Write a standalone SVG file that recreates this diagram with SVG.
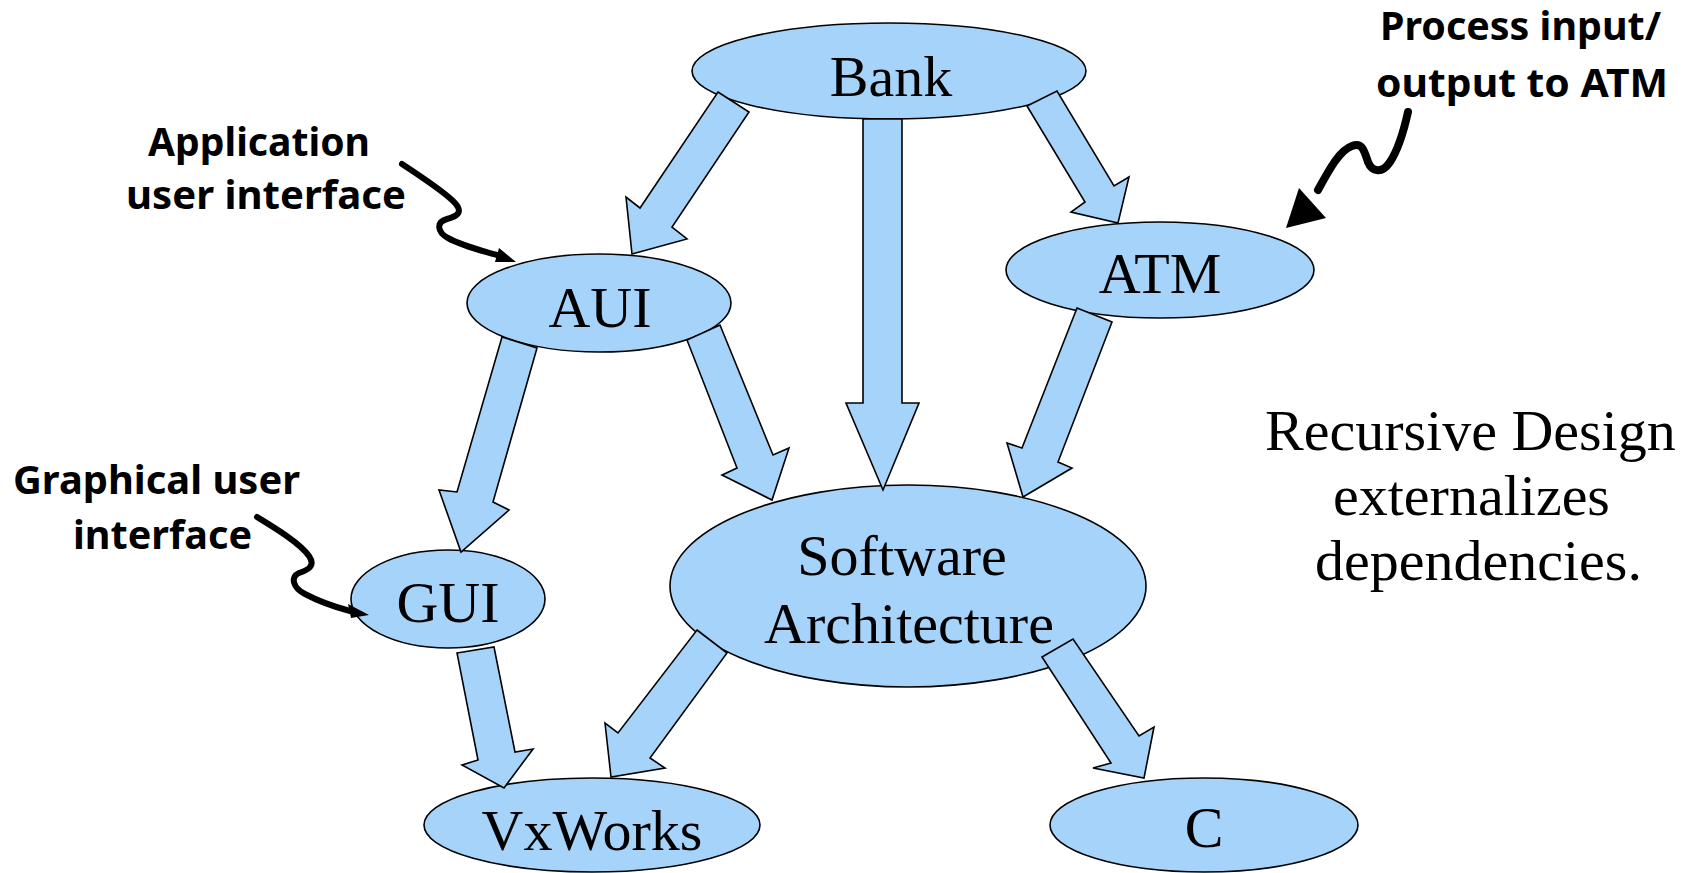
<svg xmlns="http://www.w3.org/2000/svg" width="1690" height="873" viewBox="0 0 1690 873">
  <style>
    .node ellipse { fill: #A6D3FA; stroke: #000; stroke-width: 1.6; }
    .lbl { font-family: "Liberation Serif", "Times New Roman", serif; font-size: 58px; text-anchor: middle; fill: #000; }
    .arrow { fill: #A6D3FA; stroke: #000; stroke-width: 1.6; stroke-linejoin: miter; }
    .note { font-family: "Noto Sans", "DejaVu Sans", sans-serif; font-weight: bold; font-size: 40px; fill: #000; }
    .squiggle { fill: none; stroke: #000; stroke-linecap: round; stroke-linejoin: round; }
    .caption { font-family: "Liberation Serif", "Times New Roman", serif; font-size: 58px; fill: #000; }
  </style>
  <rect width="1690" height="873" fill="#fff"/>

  <!-- nodes -->
  <g id="bank" class="node">
    <ellipse cx="889" cy="71" rx="197" ry="48"/>
    <text class="lbl" x="891" y="96">Bank</text>
  </g>
  <g id="aui" class="node">
    <ellipse cx="599" cy="303" rx="132" ry="49"/>
    <text class="lbl" x="600" y="327">AUI</text>
  </g>
  <g id="atm" class="node">
    <ellipse cx="1160" cy="270" rx="154" ry="48"/>
    <text class="lbl" x="1160" y="293">ATM</text>
  </g>
  <g id="gui" class="node">
    <ellipse cx="448" cy="599" rx="97" ry="49"/>
    <text class="lbl" x="448" y="622">GUI</text>
  </g>
  <g id="software-architecture" class="node">
    <ellipse cx="908" cy="586" rx="238" ry="101"/>
    <text class="lbl" x="902" y="575">Software</text>
    <text class="lbl" x="909" y="643">Architecture</text>
  </g>
  <g id="vxworks" class="node">
    <ellipse cx="592" cy="825" rx="168" ry="47"/>
    <text class="lbl" x="592" y="850">VxWorks</text>
  </g>
  <g id="c" class="node">
    <ellipse cx="1204" cy="825" rx="154" ry="47"/>
    <text class="lbl" x="1204" y="847">C</text>
  </g>

  <!-- dependency arrows -->
  <g id="connectors">
    <polygon class="arrow" points="718,92 749,112 672,227 687,239 632,254 626,197 640,208"/>
    <polygon class="arrow" points="863,119 902,119 902,403 919,403 883,490 846,403 863,403"/>
    <polygon class="arrow" points="1027,106 1057,91 1114,186 1129,177 1118,223 1071,212 1085,202"/>
    <polygon class="arrow" points="502,337 537,348 493,502 509,510 461,552 439,490 457,492"/>
    <polygon class="arrow" points="687,340 720,325 773,455 789,448 772,500 722,475 737,468"/>
    <polygon class="arrow" points="1077,308 1112,322 1058,462 1072,468 1023,497 1007,443 1022,448"/>
    <polygon class="arrow" points="457,653 494,647 515,752 533,749 504,788 462,765 478,760"/>
    <polygon class="arrow" points="697,630 727,653 650,758 665,768 611,777 605,723 618,733"/>
    <polygon class="arrow" points="1042,657 1073,639 1139,736 1154,727 1144,778 1093,768 1111,763"/>
  </g>

  <!-- hand-drawn annotations -->
  <g id="note-aui">
    <text class="note" x="148" y="156" textLength="222" lengthAdjust="spacingAndGlyphs">Application</text>
    <text class="note" x="126" y="209" textLength="280" lengthAdjust="spacingAndGlyphs">user interface</text>
    <path class="squiggle" stroke-width="6" d="M402,164 C420,176 445,192 455,203 C463,212 458,216 447,219 C436,222 437,232 448,238 C462,246 480,250 497,255"/>
    <polygon points="516,262 499,248 495,262" fill="#000"/>
  </g>
  <g id="note-gui">
    <text class="note" x="13" y="494" textLength="287" lengthAdjust="spacingAndGlyphs">Graphical user</text>
    <text class="note" x="73" y="549" textLength="179" lengthAdjust="spacingAndGlyphs">interface</text>
    <path class="squiggle" stroke-width="6" d="M257,517 C275,528 300,543 309,556 C316,566 308,570 299,573 C290,577 293,588 305,594 C320,602 335,607 350,611"/>
    <polygon points="369,615 348,604 351,618" fill="#000"/>
  </g>
  <g id="note-atm">
    <text class="note" x="1380" y="40" textLength="281" lengthAdjust="spacingAndGlyphs">Process input/</text>
    <text class="note" x="1376" y="97" textLength="292" lengthAdjust="spacingAndGlyphs">output to ATM</text>
    <path class="squiggle" stroke-width="8" d="M1408,112 C1404,130 1398,150 1390,162 C1382,174 1372,172 1368,162 C1364,150 1362,142 1352,146 C1340,150 1330,168 1318,190"/>
    <polygon points="1286,228 1299,188 1326,218" fill="#000"/>
  </g>

  <!-- caption -->
  <g id="caption">
    <text class="caption" x="1265" y="450">Recursive Design</text>
    <text class="caption" x="1333" y="515">externalizes</text>
    <text class="caption" x="1315" y="580">dependencies.</text>
  </g>
</svg>
